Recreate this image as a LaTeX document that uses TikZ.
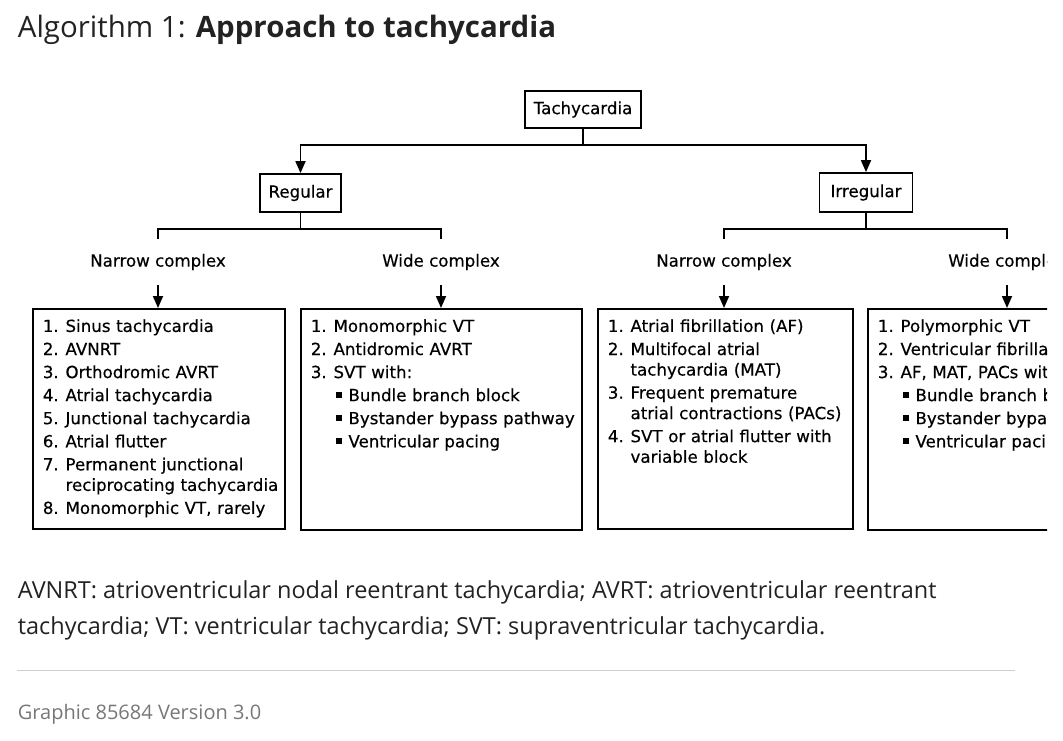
\documentclass[tikz,border=0pt]{standalone}
\usepackage{fontspec}
\setmainfont{Open Sans}
\newfontfamily\dg[FakeBold=0.4]{DejaVu Sans}
\usetikzlibrary{arrows.meta}
\definecolor{ink}{HTML}{222222}
\definecolor{rulegray}{HTML}{D0D0D0}
\definecolor{footgray}{HTML}{777777}
\newlength\numw \setlength\numw{17pt}
\newcommand\nit[2]{\par\noindent\hangindent=\numw\hangafter=1\makebox[\numw][l]{#1.}#2}
\newcommand\bit[1]{\par\noindent\hspace*{19pt}\rule[2.7pt]{4pt}{4pt}\hspace{5.2pt}#1}
\tikzset{
  dgfont/.style={font=\dg\fontsize{12.5pt}{15.4pt}\selectfont},
  headbox/.style={draw, dgfont, inner sep=0pt},
  listbox/.style={draw, anchor=north west, inner sep=0pt},
  listtext/.style={anchor=north west, inner sep=0pt, align=left, dgfont},
  lab/.style={dgfont, inner sep=0pt, minimum height=33pt},
  arr/.style={-{Triangle[width=7.5pt,length=9pt]}},
}
\begin{document}
\begin{tikzpicture}[x=0.75pt,y=-0.75pt,line width=1.3pt]
\useasboundingbox (0,0) rectangle (1063,740);
% title
\node[anchor=base west, inner sep=0pt, text=ink, font=\fontsize{22.1pt}{26pt}\selectfont] (title) at (17,37)
  {Algorithm 1: \textbf{Approach to tachycardia}};
\begin{scope}
\clip (0,0) rectangle (1047,560);
% top nodes
\node[headbox, minimum width=87pt, minimum height=27.75pt] (tach) at (583,109.5) {Tachycardia};
\node[headbox, minimum width=60.75pt, minimum height=28.5pt] (reg) at (300.5,193) {Regular};
\node[headbox, minimum width=69.75pt, minimum height=29.25pt] (irr) at (866,192.5) {Irregular};
\draw[arr] (tach.south) -- ++(0,16) -| (reg.north);
\draw[arr] (tach.south) -- ++(0,16) -| (irr.north);
% labels
\node[lab] (n1) at (158,262) {Narrow complex};
\node[lab] (w1) at (441,262) {Wide complex};
\node[lab] (n2) at (724,262) {Narrow complex};
\node[lab] (w2) at (1007,262) {Wide complex};
\draw (reg.south) -- ++(0,16) -| (n1.north);
\draw (reg.south) -- ++(0,16) -| (w1.north);
\draw (irr.south) -- ++(0,16) -| (n2.north);
\draw (irr.south) -- ++(0,16) -| (w2.north);
% list boxes
\node[listbox, minimum width=189pt, minimum height=165pt] (b1) at (32,308) {};
\node[listbox, minimum width=210.75pt, minimum height=165.75pt] (b2) at (300,308) {};
\node[listbox, minimum width=191.25pt, minimum height=165pt] (b3) at (597,308) {};
\node[listbox, minimum width=210pt, minimum height=165.75pt] (b4) at (867,308) {};
\draw[arr] (n1.south) -- (n1.south |- b1.north);
\draw[arr] (w1.south) -- (w1.south |- b2.north);
\draw[arr] (n2.south) -- (n2.south |- b3.north);
\draw[arr] (w2.south) -- (w2.south |- b4.north);
% list texts
\node[listtext, text width=180pt] (t1) at (42,308) {\setlength\parskip{1.9pt}%
\nit{1}{Sinus tachycardia}
\nit{2}{AVNRT}
\nit{3}{Orthodromic AVRT}
\nit{4}{Atrial tachycardia}
\nit{5}{Junctional tachycardia}
\nit{6}{Atrial flutter}
\nit{7}{Permanent junctional\newline reciprocating tachycardia}
\nit{8}{Monomorphic VT, rarely}\par};
\node[listtext, text width=205pt] (t2) at (310,308) {\setlength\parskip{1.9pt}%
\nit{1}{Monomorphic VT}
\nit{2}{Antidromic AVRT}
\nit{3}{SVT with:}
\bit{Bundle branch block}
\bit{Bystander bypass pathway}
\bit{Ventricular pacing}\par};
\node[listtext, text width=185pt] (t3) at (607,308) {\setlength\parskip{1.9pt}%
\nit{1}{Atrial fibrillation (AF)}
\nit{2}{Multifocal atrial\newline tachycardia (MAT)}
\nit{3}{Frequent premature\newline atrial contractions (PACs)}
\nit{4}{SVT or atrial flutter with\newline variable block}\par};
\node[listtext, text width=205pt] (t4) at (877,308) {\setlength\parskip{1.9pt}%
\nit{1}{Polymorphic VT}
\nit{2}{Ventricular fibrillation}
\nit{3}{AF, MAT, PACs with:}
\bit{Bundle branch block}
\bit{Bystander bypass pathway}
\bit{Ventricular pacing}\par};
\end{scope}
% footer
\node[anchor=base west, inner sep=0pt, text=ink, font=\fontsize{17.6pt}{20pt}\selectfont] (f1) at (17,598)
  {AVNRT: atrioventricular nodal reentrant tachycardia; AVRT: atrioventricular reentrant};
\node[anchor=base west, inner sep=0pt, text=ink, font=\fontsize{17.6pt}{20pt}\selectfont] (f2) at (17,634)
  {tachycardia; VT: ventricular tachycardia; SVT: supraventricular tachycardia.};
\draw[line width=0.75pt, rulegray] (17,670) -- (1015,670);
\node[anchor=base west, inner sep=0pt, text=footgray, font=\fontsize{15pt}{18pt}\selectfont] (g) at (17,719)
  {Graphic 85684 Version 3.0};
\end{tikzpicture}
\end{document}
